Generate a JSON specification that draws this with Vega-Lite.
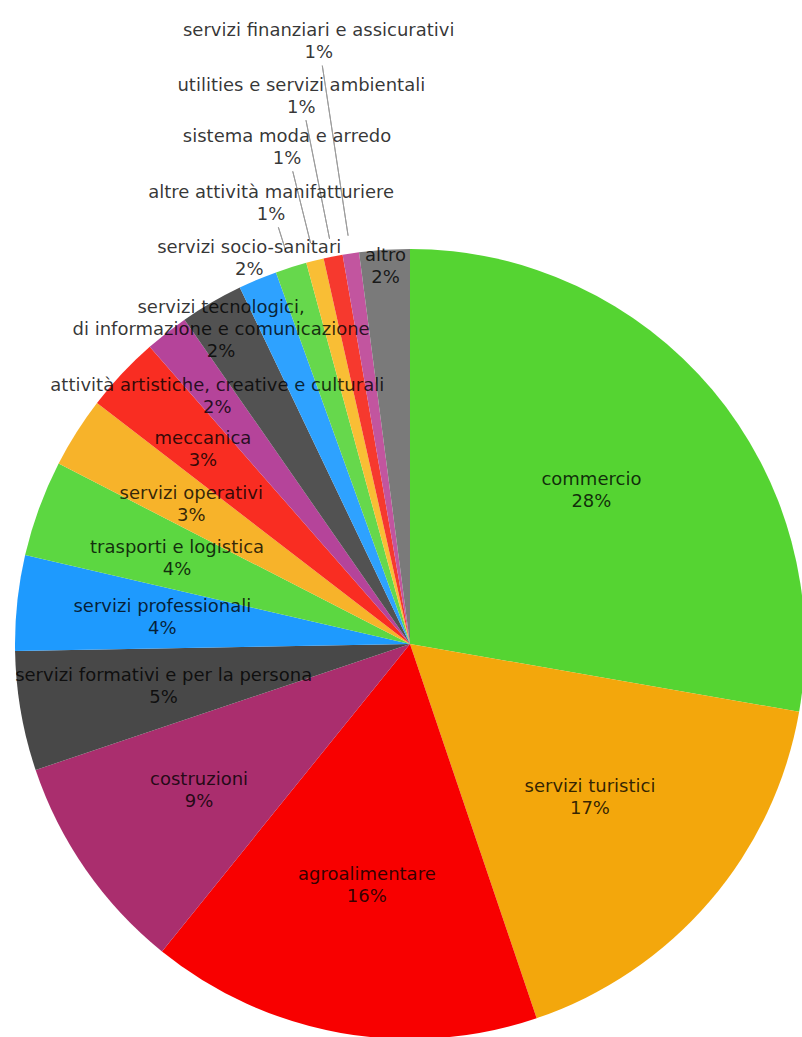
{
  "$schema": "https://vega.github.io/schema/vega-lite/v6.json",
  "width": 780,
  "height": 780,
  "autosize": {"type": "none"},
  "padding": {"left": 20, "top": 254, "right": 2, "bottom": 3},
  "background": "white",
  "config": {"view": {"stroke": null}},
  "data": {
    "values": [
      {"ordine": 1, "settore": "commercio", "quota": 27.75, "etichetta": "commercio\n28%"},
      {"ordine": 2, "settore": "servizi turistici", "quota": 17.06, "etichetta": "servizi turistici\n17%"},
      {"ordine": 3, "settore": "agroalimentare", "quota": 16.0, "etichetta": "agroalimentare\n16%"},
      {"ordine": 4, "settore": "costruzioni", "quota": 9.03, "etichetta": "costruzioni\n9%"},
      {"ordine": 5, "settore": "servizi formativi e per la persona", "quota": 4.89, "etichetta": "servizi formativi e per la persona\n5%"},
      {"ordine": 6, "settore": "servizi professionali", "quota": 3.89, "etichetta": "servizi professionali\n4%"},
      {"ordine": 7, "settore": "trasporti e logistica", "quota": 3.94, "etichetta": "trasporti e logistica\n4%"},
      {"ordine": 8, "settore": "servizi operativi", "quota": 2.89, "etichetta": "servizi operativi\n3%"},
      {"ordine": 9, "settore": "meccanica", "quota": 3.11, "etichetta": "meccanica\n3%"},
      {"ordine": 10, "settore": "attività artistiche, creative e culturali", "quota": 1.78, "etichetta": "attività artistiche, creative e culturali\n2%"},
      {"ordine": 11, "settore": "servizi tecnologici, di informazione e comunicazione", "quota": 2.58, "etichetta": "servizi tecnologici,\ndi informazione e comunicazione\n2%"},
      {"ordine": 12, "settore": "servizi socio-sanitari", "quota": 1.58, "etichetta": "servizi socio-sanitari\n2%"},
      {"ordine": 13, "settore": "altre attività manifatturiere", "quota": 1.28, "etichetta": "altre attività manifatturiere\n1%"},
      {"ordine": 14, "settore": "sistema moda e arredo", "quota": 0.72, "etichetta": "sistema moda e arredo\n1%"},
      {"ordine": 15, "settore": "utilities e servizi ambientali", "quota": 0.78, "etichetta": "utilities e servizi ambientali\n1%"},
      {"ordine": 16, "settore": "servizi finanziari e assicurativi", "quota": 0.67, "etichetta": "servizi finanziari e assicurativi\n1%"},
      {"ordine": 17, "settore": "altro", "quota": 2.06, "etichetta": "altro\n2%"}
    ]
  },
  "encoding": {
    "theta": {"field": "quota", "type": "quantitative", "stack": true},
    "order": {"field": "ordine", "type": "quantitative", "sort": "ascending"}
  },
  "layer": [
    {
      "mark": {"type": "arc", "outerRadius": 395},
      "encoding": {
        "color": {
          "field": "settore",
          "type": "nominal",
          "legend": null,
          "scale": {
            "domain": ["commercio", "servizi turistici", "agroalimentare", "costruzioni", "servizi formativi e per la persona", "servizi professionali", "trasporti e logistica", "servizi operativi", "meccanica", "attività artistiche, creative e culturali", "servizi tecnologici, di informazione e comunicazione", "servizi socio-sanitari", "altre attività manifatturiere", "sistema moda e arredo", "utilities e servizi ambientali", "servizi finanziari e assicurativi", "altro"],
            "range": ["#55D432", "#F3A70C", "#F80000", "#AA2E6E", "#484848", "#1E9AFE", "#5CD741", "#F7B32A", "#F92D22", "#B5449A", "#525252", "#2EA2FF", "#66D84C", "#F9BE35", "#F6392E", "#C2559F", "#7A7A7A"]
          }
        }
      }
    },
    {
      "mark": {"type": "arc", "padAngle": 0.6, "fillOpacity": 0, "stroke": "#9c9c9c", "strokeWidth": 1, "radiusOffset": -24},
      "encoding": {
        "radius": {
          "field": "quota",
          "type": "quantitative",
          "scale": {"domain": [0.67, 0.72, 0.78, 1.28, 1.58, 1.78, 2.06, 2.58, 2.89, 3.11, 3.89, 3.94, 4.89, 9.03, 16.0, 17.06, 27.75], "range": [609, 511, 558, 461, 417, 313, 378, 376, 259, 284, 249, 248, 250, 257, 246, 237, 237], "zero": false, "nice": false}
        },
        "radius2": {"value": 413},
        "strokeOpacity": {"condition": {"test": "datum.ordine >= 13 && datum.ordine <= 16", "value": 1}, "value": 0}
      }
    },
    {
      "mark": {"type": "text", "font": "DejaVu Sans", "fontSize": 18, "lineHeight": 22, "lineBreak": "\n", "dy": -11, "fill": "#000000", "fillOpacity": 0.8},
      "encoding": {
        "text": {"field": "etichetta", "type": "nominal"},
        "detail": {"field": "settore", "type": "nominal"},
        "radius": {
          "field": "quota",
          "type": "quantitative",
          "scale": {"domain": [0.67, 0.72, 0.78, 1.28, 1.58, 1.78, 2.06, 2.58, 2.89, 3.11, 3.89, 3.94, 4.89, 9.03, 16.0, 17.06, 27.75], "range": [609, 511, 558, 461, 417, 313, 378, 376, 259, 284, 249, 248, 250, 257, 246, 237, 237], "zero": false, "nice": false}
        }
      }
    }
  ]
}
